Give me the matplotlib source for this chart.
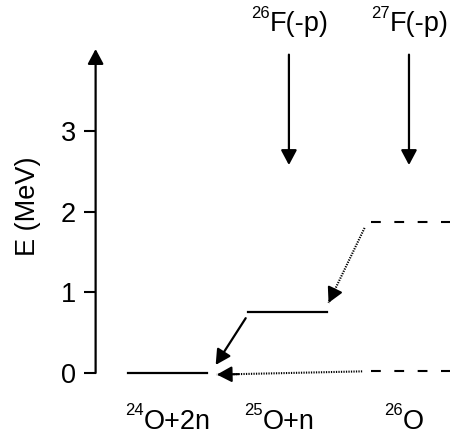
import matplotlib
matplotlib.use("Agg")
import matplotlib.pyplot as plt
from matplotlib.patches import FancyArrowPatch

plt.rcParams["font.family"] = ["Liberation Sans", "DejaVu Sans"]

FS = 19.5      # main text size
FS_SUP = 12    # mass-number superscript size
SUP_UP = 9.7   # superscript baseline shift, points

# column labels: (mass number, rest), anchor x at the superscript/text joint
col_sup = ["24", "25", "26"]
col_main = ["O+2n", "O+n", "O"]
col_label_x = [-0.20, 0.79, 1.96]

# levels: column, energy (MeV), style
level_col = [0, 1, 2.02, 2.02]
level_E = [0.0, 0.76, 1.87, 0.02]
level_style = ["solid", "solid", "dashed", "dashed"]
half_w = 0.33

# decays: (x0, E0) -> (x1, E1), style
decay_from = [(0.65, 0.68), (1.62, 0.02), (1.64, 1.80)]
decay_to = [(0.40, 0.10), (0.41, -0.02), (1.34, 0.87)]
decay_style = ["solid", "dotted", "dotted"]

# population from reactions
react_sup = ["26", "27"]
react_main = ["F(-p)", "F(-p)"]
react_x = [1.01, 2.01]
react_label_x = [0.85, 1.85]
react_E = (3.95, 2.58)

yticks = [0, 1, 2, 3]

HEAD = "-|>,head_length=0.45,head_width=0.24"


def head(ax, p0, p1, frac=0.15):
    # arrow head only, pointing from p0 to p1
    q = (p1[0] + frac * (p0[0] - p1[0]), p1[1] + frac * (p0[1] - p1[1]))
    ax.add_patch(FancyArrowPatch(q, p1, arrowstyle=HEAD, mutation_scale=20, lw=1.5,
                                 color="black", clip_on=False, shrinkA=0, shrinkB=0))


def iso_label(ax, x, y, sup, main):
    ax.text(x, y, main, ha="left", va="baseline", fontsize=FS)
    ax.annotate(sup, (x, y), xytext=(0, SUP_UP), textcoords="offset points",
                ha="right", va="baseline", fontsize=FS_SUP, annotation_clip=False)


fig = plt.figure(figsize=(4.51, 4.34), dpi=100)
ax = fig.add_axes([0.212, 0.1406, 0.788, 0.7465])
ax.set_xlim(-0.6, 2.36)
ax.set_ylim(0, 4.02)
for s in ax.spines.values():
    s.set_visible(False)
ax.set_xticks([])
ax.set_yticks(yticks)
ax.tick_params(axis="y", direction="out", length=9, width=1.5, pad=5, labelsize=FS)

# energy axis with arrow head
ax.add_patch(FancyArrowPatch((-0.6, 0), (-0.6, 4.02), arrowstyle=HEAD,
                             mutation_scale=20, lw=1.6, color="black", clip_on=False,
                             shrinkA=0, shrinkB=0))

for c, e, st in zip(level_col, level_E, level_style):
    if st == "dashed":
        ax.plot([c - half_w, c + half_w], [e, e], color="black", lw=1.5,
                linestyle=(0, (4.7, 6.5)), clip_on=False)
    else:
        ax.plot([c - half_w, c + half_w], [e, e], color="black", lw=1.6, clip_on=False)

for p0, p1, st in zip(decay_from, decay_to, decay_style):
    if st == "solid":
        ax.add_patch(FancyArrowPatch(p0, p1, arrowstyle=HEAD, mutation_scale=20, lw=1.6,
                                     color="black", clip_on=False, shrinkA=0, shrinkB=0))
    else:
        ax.plot([p0[0], p1[0]], [p0[1], p1[1]], color="black", lw=1.5,
                linestyle=(0, (0.6, 0.6)), clip_on=False)
        head(ax, p0, p1)

for x, lx, sup, main in zip(react_x, react_label_x, react_sup, react_main):
    ax.add_patch(FancyArrowPatch((x, react_E[0]), (x, react_E[1]), arrowstyle=HEAD,
                                 mutation_scale=20, lw=1.6, color="black", clip_on=False,
                                 shrinkA=0, shrinkB=0))
    iso_label(ax, lx, 4.24, sup, main)

for x, sup, main in zip(col_label_x, col_sup, col_main):
    iso_label(ax, x, -0.69, sup, main)

fig.text(28 / 451, 1 - 206 / 434, "E (MeV)", rotation=90, ha="center", va="center", fontsize=FS)

fig.savefig("out.png", dpi=100)
